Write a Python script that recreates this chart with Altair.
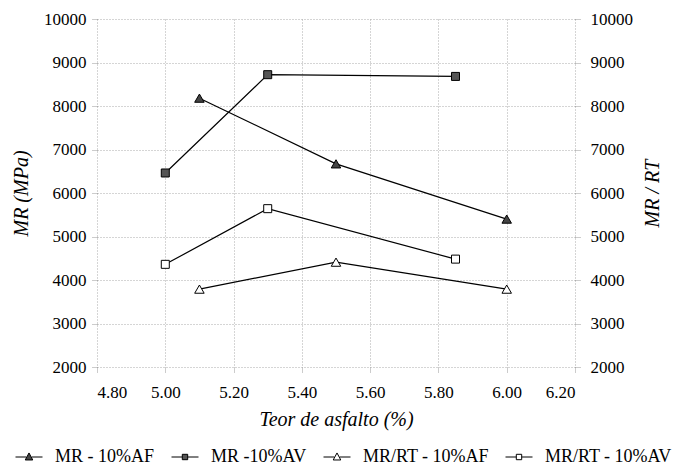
import altair as alt
import pandas as pd

# ---- data ----
series_names = ["MR - 10%AF", "MR -10%AV", "MR/RT - 10%AF", "MR/RT - 10%AV"]
x_mr_af = [5.10, 5.50, 6.00]
y_mr_af = [8180, 6670, 5400]
x_mr_av = [5.00, 5.30, 5.85]
y_mr_av = [6460, 8720, 8680]
x_rt_af = [5.10, 5.50, 6.00]
y_rt_af = [3790, 4410, 3790]
x_rt_av = [5.00, 5.30, 5.85]
y_rt_av = [4360, 5640, 4480]
x_ticks = [4.80, 5.00, 5.20, 5.40, 5.60, 5.80, 6.00, 6.20]
y_ticks = [2000, 3000, 4000, 5000, 6000, 7000, 8000, 9000, 10000]

rows = []
for name, xs, ys in zip(series_names,
                        [x_mr_af, x_mr_av, x_rt_af, x_rt_av],
                        [y_mr_af, y_mr_av, y_rt_af, y_rt_av]):
    for xv, yv in zip(xs, ys):
        rows.append({"x": xv, "y": yv, "series": name})
df = pd.DataFrame(rows)

FONT = "'Liberation Serif', 'Times New Roman', Times, serif"

x_enc = alt.X("x:Q",
              scale=alt.Scale(domain=[4.8, 6.2], nice=False, zero=False),
              axis=alt.Axis(values=x_ticks, format=".2f", title="Teor de asfalto (%)",
                            grid=True, labelPadding=12, titlePadding=9))

def y_enc(orient, title, grid):
    if orient is None:
        return alt.Y("y:Q", scale=alt.Scale(domain=[2000, 10000], nice=False, zero=False), axis=None)
    ax = dict(values=y_ticks, format="d", title=title, orient=orient, grid=grid,
              labelPadding=6, titlePadding=12)
    if orient == "right":
        ax.update(titleAngle=270, labelPadding=10, titlePadding=30)
    return alt.Y("y:Q", scale=alt.Scale(domain=[2000, 10000], nice=False, zero=False),
                 axis=alt.Axis(**ax))

def lines(sub, y):
    return alt.Chart(sub).mark_line(color="black", strokeWidth=1.2).encode(
        x=x_enc, y=y, detail="series:N")

def pts(sub, y, shape, fill, size):
    return alt.Chart(sub).mark_point(shape=shape, filled=True, fill=fill, stroke="black",
                                     strokeWidth=1, size=size, opacity=1).encode(x=x_enc, y=y)

df_mr = df[df.series.isin(series_names[:2])]
df_rt = df[df.series.isin(series_names[2:])]

yl = y_enc("left", "MR (MPa)", True)
yr = y_enc("right", "MR / RT", False)

left = alt.layer(
    lines(df_mr, yl),
    pts(df[df.series == series_names[0]], yl, "triangle-up", "#444", 90),
    pts(df[df.series == series_names[1]], yl, "square", "#555", 64),
)
right = alt.layer(
    lines(df_rt, yr),
    pts(df[df.series == series_names[2]], yr, "triangle-up", "white", 90),
    pts(df[df.series == series_names[3]], yr, "square", "white", 64),
)

tri = "M-1,0H-0.2M0.2,0H1M-0.28,0.22L0,-0.3L0.28,0.22Z"
sq = "M-1,0H-0.2M0.2,0H1M-0.2,-0.2H0.2V0.2H-0.2Z"
leg = dict(orient="none", legendX=-82, legendY=424,
           direction="horizontal", columns=4, title=None,
           symbolSize=729, symbolStrokeWidth=1, symbolOpacity=1,
           labelFont=FONT, labelFontSize=18, labelColor="black",
           labelOffset=12, columnPadding=14, labelLimit=300)
legend_layer = alt.Chart(df).mark_point(opacity=0, filled=False).encode(
    x=x_enc,
    y=y_enc(None, None, False),
    shape=alt.Shape("series:N",
                    scale=alt.Scale(domain=series_names, range=[tri, sq, tri, sq]),
                    legend=alt.Legend(**leg)),
    fill=alt.Fill("series:N",
                  scale=alt.Scale(domain=series_names, range=["#444", "#555", "white", "white"]),
                  legend=alt.Legend(**leg)),
    stroke=alt.Stroke("series:N",
                      scale=alt.Scale(domain=series_names, range=["black", "black", "black", "black"]),
                      legend=alt.Legend(**leg)),
)

chart = alt.layer(left, right, legend_layer).resolve_scale(y="independent").properties(
    width=478, height=348,
    padding={"left": 89, "top": 11, "right": 108, "bottom": 100},
    autosize=alt.AutoSizeParams(type="none"),
    background="white",
).configure(font=FONT).configure_view(stroke=None).configure_axis(
    domain=False,
    gridColor="#ababab", gridDash=[1, 2], gridWidth=1,
    tickColor="#999", tickDash=[1, 1], tickSize=5,
    labelFont=FONT, labelFontSize=17, labelColor="black",
    titleFont=FONT, titleFontSize=20, titleFontStyle="italic", titleFontWeight="normal",
    titleColor="black",
).configure_legend(labelFont=FONT, labelFontSize=18)

chart.save("out.html", embed_options={"renderer": "svg", "actions": False})
